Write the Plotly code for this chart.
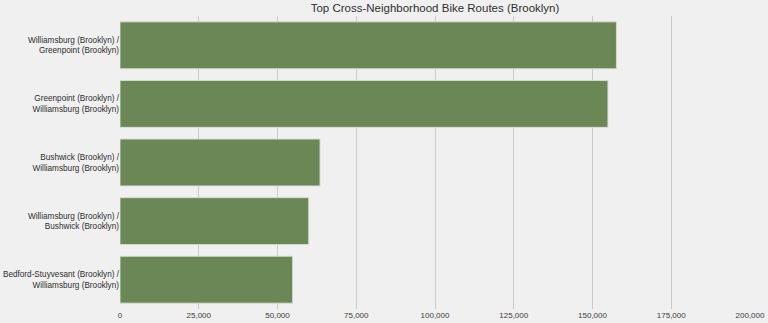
import plotly.graph_objects as go

routes = [
    "Williamsburg (Brooklyn) /<br>Greenpoint (Brooklyn)",
    "Greenpoint (Brooklyn) /<br>Williamsburg (Brooklyn)",
    "Bushwick (Brooklyn) /<br>Williamsburg (Brooklyn)",
    "Williamsburg (Brooklyn) /<br>Bushwick (Brooklyn)",
    "Bedford-Stuyvesant (Brooklyn) /<br>Williamsburg (Brooklyn)",
]
trips = [157600, 154900, 63500, 59900, 54800]
tick_vals = [0, 25000, 50000, 75000, 100000, 125000, 150000, 175000, 200000]
tick_text = ["0", "25,000", "50,000", "75,000", "100,000", "125,000", "150,000", "175,000", "200,000"]

fig = go.Figure(
    go.Bar(
        x=trips,
        y=routes,
        orientation="h",
        width=0.8,
        marker=dict(color="#6b8755", line=dict(color="rgba(215,224,208,0.9)", width=1)),
    )
)

fig.update_layout(
    width=768,
    height=323,
    margin=dict(l=120, r=18, t=16, b=14),
    paper_bgcolor="#f0f0f0",
    plot_bgcolor="#f0f0f0",
    font=dict(family="Liberation Sans, Arial, sans-serif", color="#2e2e2e", size=8.2),
    title=dict(
        text="Top Cross-Neighborhood Bike Routes (Brooklyn)",
        x=(120 + 750) / 2 / 768,
        xanchor="center",
        y=1 - 8 / 323,
        yanchor="middle",
        font=dict(size=11.5, color="#2e2e2e"),
    ),
    showlegend=False,
)

fig.update_xaxes(
    range=[0, 200000],
    tickvals=tick_vals,
    ticktext=tick_text,
    showgrid=True,
    gridcolor="#cbcbcb",
    gridwidth=1,
    zeroline=False,
    showline=False,
    ticks="",
    automargin=False,
    tickfont=dict(size=8, color="#3a3a3a"),
)
fig.update_yaxes(
    categoryorder="array",
    categoryarray=routes,
    range=[4.5, -0.5],
    showgrid=False,
    zeroline=False,
    showline=False,
    ticks="",
    automargin=False,
    tickfont=dict(size=8.2, color="#2e2e2e"),
)

fig.write_html("out.html")
